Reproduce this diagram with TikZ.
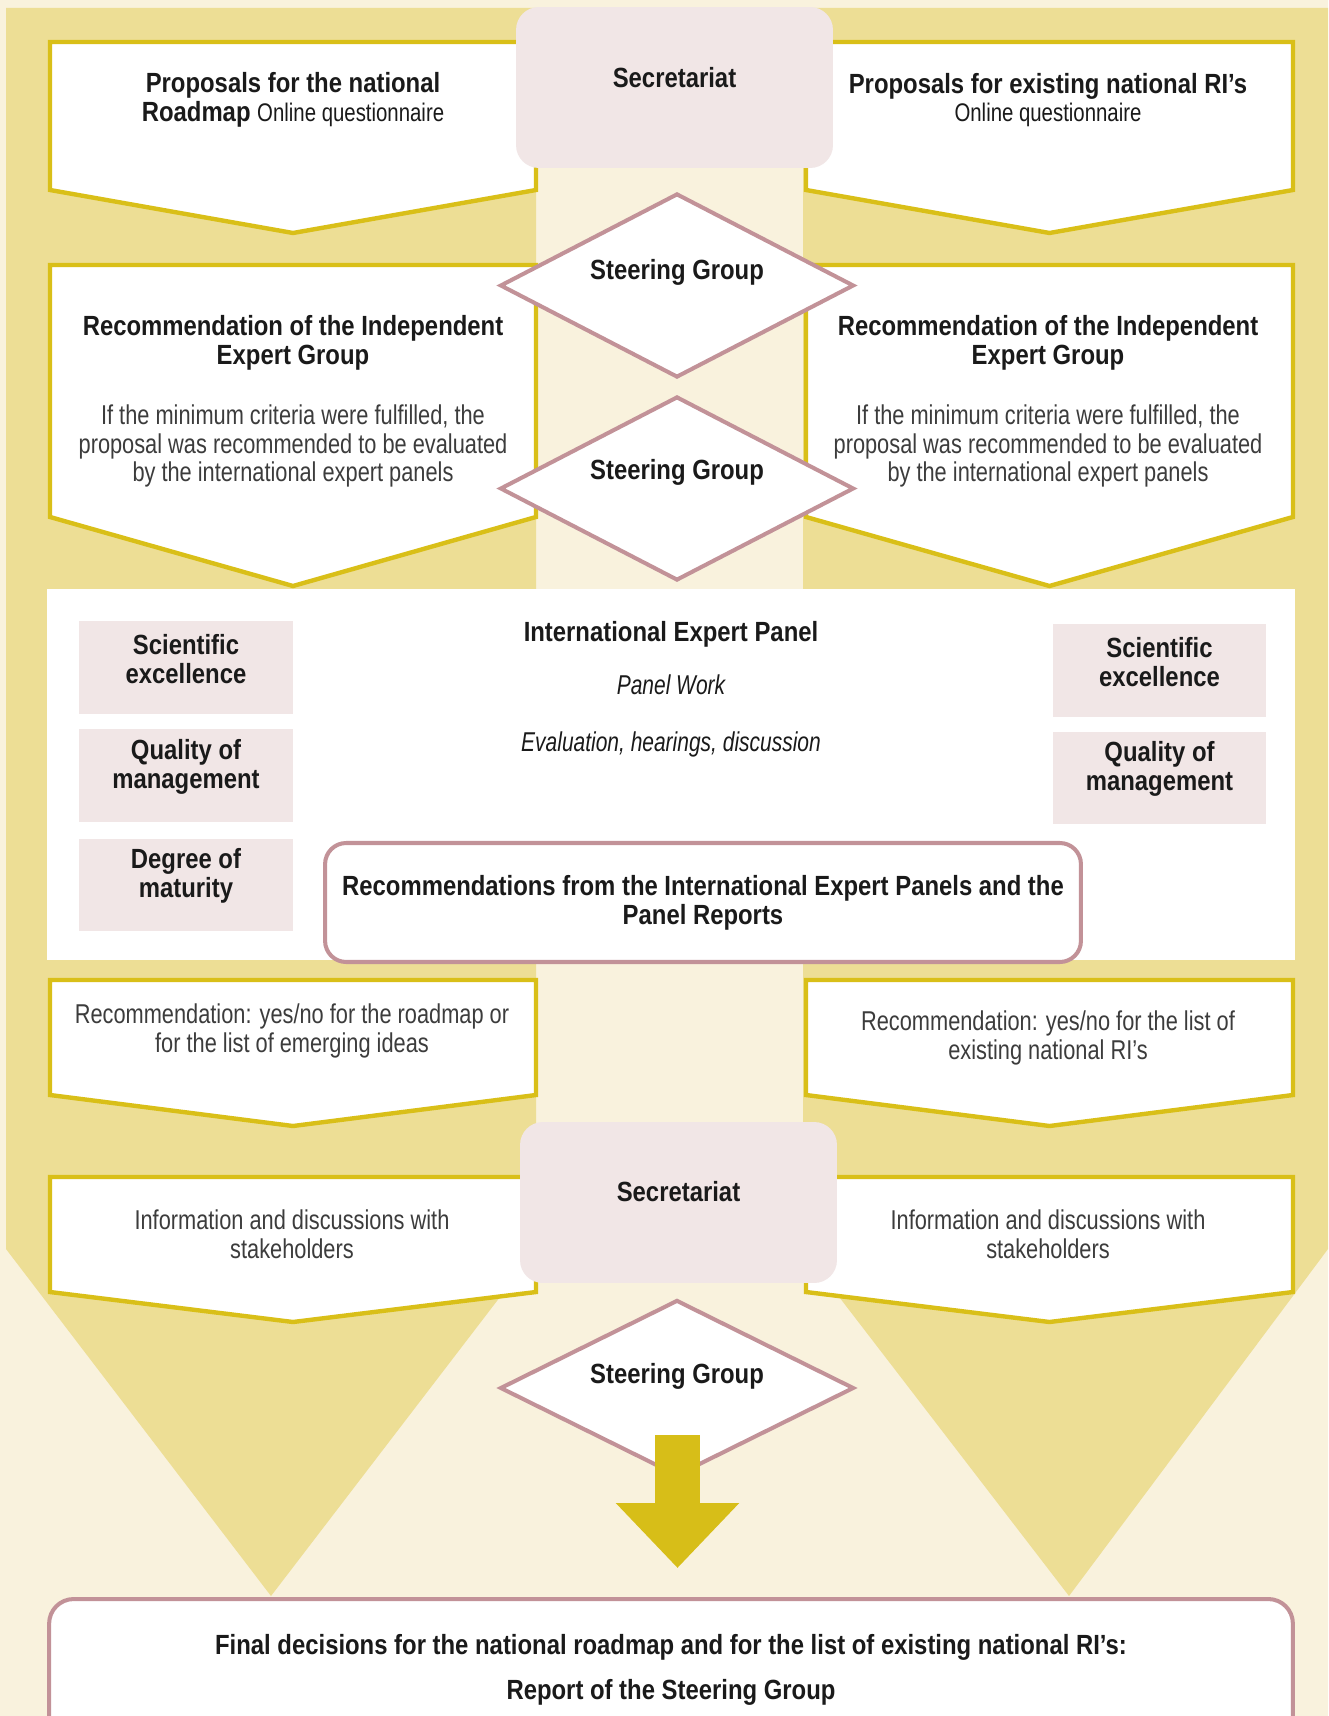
\documentclass[tikz,border=0pt]{standalone}
\usepackage{fontspec}
\setmainfont{Liberation Sans}
\newfontfamily\headfont{Liberation Sans}[FakeStretch=0.86]
\newfontfamily\bodyfont{Liberation Sans}[FakeStretch=0.8]
\newfontfamily\notefont{Liberation Sans}[FakeStretch=0.77]
\usetikzlibrary{arrows.meta, positioning, shapes.geometric}
\definecolor{creambg}{HTML}{F9F2DD}
\definecolor{sandbg}{HTML}{EDDE95}
\definecolor{chevgold}{HTML}{D9BF18}
\definecolor{rosefill}{HTML}{F1E6E6}
\definecolor{roseline}{HTML}{C29298}
\definecolor{arrowgold}{HTML}{D7BE18}
\definecolor{inkdark}{HTML}{1A1A1A}

\begin{document}
\begin{tikzpicture}[x=0.02cm, y=-0.02cm,
  chev/.style={draw=chevgold, fill=white, line width=2.5pt},
  sec/.style={fill=rosefill, rounded corners=13pt, minimum width=6.34cm,
    minimum height=3.22cm},
  sg/.style={diamond, draw=roseline, fill=white, line width=2.3pt,
    minimum width=7.08cm, minimum height=3.68cm, inner sep=0pt},
  crit/.style={fill=rosefill, minimum width=4.28cm, minimum height=1.86cm},
  reco/.style={draw=roseline, fill=white, line width=2.3pt,
    rounded corners=12pt, align=center, text=inkdark,
    font=\headfont\bfseries\fontsize{15.8}{16.4}\selectfont},
  head/.style={font=\headfont\bfseries\fontsize{15.8}{16.4}\selectfont,
    text=inkdark, align=center, inner sep=0pt},
  body/.style={font=\bodyfont\fontsize{15.5}{16.4}\selectfont,
    text=inkdark!85, align=center, inner sep=0pt},
  note/.style={font=\notefont\itshape\fontsize{15.5}{16.4}\selectfont,
    text=inkdark, inner sep=0pt}
]
  \useasboundingbox (0,0) rectangle (1328,1716);
  \clip (0,0) rectangle (1328,1716);

  % Background bands
  \fill[creambg] (0,0) rectangle (1328,1716);
  \fill[sandbg] (6,8) -- (536,8) -- (536,1250) -- (271,1596) -- (6,1249) -- cycle;
  \fill[sandbg] (803,8) -- (1328,8) -- (1328,1249) -- (1069,1596) -- (803,1250) -- cycle;

  % Chevrons, left and right
  \foreach \yt/\ys/\yp in {42/190/233, 265/517/586, 980/1095/1126, 1177/1292/1322}{
    \draw[chev] (50,\yt) -- (536,\yt) -- (536,\ys) -- (293,\yp) -- (50,\ys) -- cycle;
    \draw[chev] (806,\yt) -- (1293,\yt) -- (1293,\ys) -- (1049.5,\yp) -- (806,\ys) -- cycle;
  }

  % Panel area
  \fill[white] (47,589) rectangle (1295,960);

  % Secretariat
  \node[sec] (secTop) at (674.5,87.5) {};
  \node[head] (secTopLbl) at ([yshift=5.4pt]secTop.center) {Secretariat};
  \node[sec] (secBot) at (678.5,1202.5) {};
  \node[head] (secBotLbl) at ([yshift=6pt]secBot.center) {Secretariat};

  % Steering group
  \node[sg] (sgOne) at (677,285.5) {};
  \node[head] (sgOneLbl) at ([yshift=7.7pt]sgOne.center) {Steering Group};
  \node[sg] (sgTwo) at (677,488.5) {};
  \node[head] (sgTwoLbl) at ([yshift=9.4pt]sgTwo.center) {Steering Group};
  \node[sg, minimum height=3.52cm] (sgThree) at (677,1388) {};
  \node[head] (sgThreeLbl) at ([yshift=6.8pt]sgThree.center) {Steering Group};

  % Proposals
  \node[head] (propL) at (293,100) {Proposals for the national\\Roadmap
    {\bodyfont\mdseries\fontsize{14.5}{16.4}\selectfont Online questionnaire}};
  \node[head] (propR) at (1048,100) {Proposals for existing national RI’s\\
    {\bodyfont\mdseries\fontsize{14.5}{16.4}\selectfont Online questionnaire}};

  % Independent expert group
  \node[head] (igHeadL) at (293,343) {Recommendation of the Independent\\Expert Group};
  \node[head] (igHeadR) at (1048,343) {Recommendation of the Independent\\Expert Group};
  \node[body] (igBodyL) at (293,446) {If the minimum criteria were fulfilled, the\\
    proposal was recommended to be evaluated\\by the international expert panels};
  \node[body] (igBodyR) at (1048,446) {If the minimum criteria were fulfilled, the\\
    proposal was recommended to be evaluated\\by the international expert panels};

  % International expert panel
  \node[crit] (sciL) at (186,667.5) {};
  \node[crit] (qualL) at (186,775.5) {};
  \node[crit] (matL) at (186,885) {};
  \node[crit] (sciR) at (1159.5,670.5) {};
  \node[crit] (qualR) at (1159.5,778) {};
  \node[head] (sciLTxt) at ([yshift=5pt]sciL.center) {Scientific\\excellence};
  \node[head] (qualLTxt) at ([yshift=5pt]qualL.center) {Quality of\\management};
  \node[head] (matLTxt) at ([yshift=5pt]matL.center) {Degree of\\maturity};
  \node[head] (sciRTxt) at ([yshift=5pt]sciR.center) {Scientific\\excellence};
  \node[head] (qualRTxt) at ([yshift=5pt]qualR.center) {Quality of\\management};
  \node[head] (iep) at (671,634) {International Expert Panel};
  \node[note] (pwork) at (671,685) {Panel Work};
  \node[note] (evalh) at (671,744) {Evaluation, hearings, discussion};
  \node[reco, minimum width=15.12cm, minimum height=2.38cm] (panelReco) at (703,902.5)
    {Recommendations from the International Expert Panels and the\\Panel Reports};

  % Yes/no and stakeholders
  \node[body] (yesnoL) at (292,1031) {Recommendation: yes/no for the roadmap or\\
    for the list of emerging ideas};
  \node[body] (yesnoR) at (1048,1038) {Recommendation: yes/no for the list of\\
    existing national RI’s};
  \node[body] (infoL) at (292,1234) {Information and discussions with\\stakeholders};
  \node[body] (infoR) at (1048,1234) {Information and discussions with\\stakeholders};

  % Final decision
  \coordinate (arrowTop) at (677.5,1435);
  \coordinate (arrowTip) at (677.5,1568);
  \draw[arrowgold, line width=25.5pt, -{Triangle[length=37pt, width=68pt]}]
    (arrowTop) -- (arrowTip);
  \node[reco, minimum width=24.88cm, minimum height=2.84cm, rounded corners=14pt]
    (final) at (671,1670) {Final decisions for the national roadmap and for the list
    of existing national RI’s:\\[9.6pt]Report of the Steering Group};
\end{tikzpicture}
\end{document}
